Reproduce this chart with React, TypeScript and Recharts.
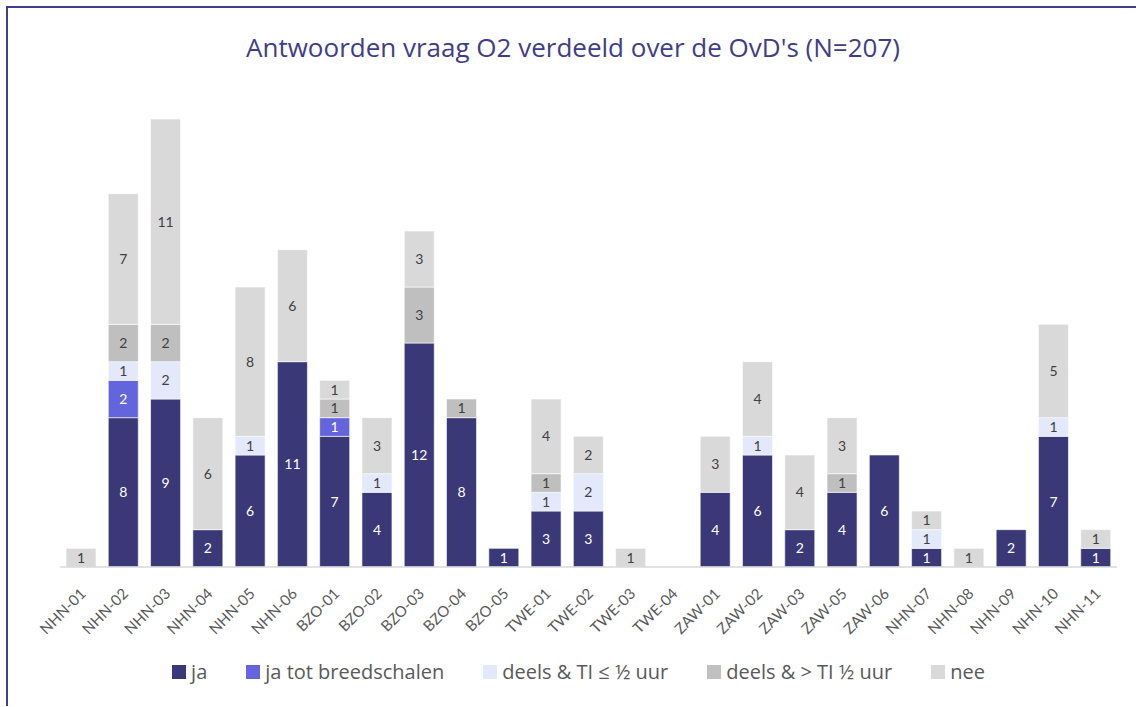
import React from "react";
import { BarChart, Bar, XAxis, YAxis, Legend, LabelList } from "recharts";

const categories = [
  "NHN-01", "NHN-02", "NHN-03", "NHN-04", "NHN-05", "NHN-06",
  "BZO-01", "BZO-02", "BZO-03", "BZO-04", "BZO-05",
  "TWE-01", "TWE-02", "TWE-03", "TWE-04",
  "ZAW-01", "ZAW-02", "ZAW-03", "ZAW-05", "ZAW-06",
  "NHN-07", "NHN-08", "NHN-09", "NHN-10", "NHN-11",
];

const ja = [0, 8, 9, 2, 6, 11, 7, 4, 12, 8, 1, 3, 3, 0, 0, 4, 6, 2, 4, 6, 1, 0, 2, 7, 1];
const jaTotBreedschalen = [0, 2, 0, 0, 0, 0, 1, 0, 0, 0, 0, 0, 0, 0, 0, 0, 0, 0, 0, 0, 0, 0, 0, 0, 0];
const deelsKort = [0, 1, 2, 0, 1, 0, 0, 1, 0, 0, 0, 1, 2, 0, 0, 0, 1, 0, 0, 0, 1, 0, 0, 1, 0];
const deelsLang = [0, 2, 2, 0, 0, 0, 1, 0, 3, 1, 0, 1, 0, 0, 0, 0, 0, 0, 1, 0, 0, 0, 0, 0, 0];
const nee = [1, 7, 11, 6, 8, 6, 1, 3, 3, 0, 0, 4, 2, 1, 0, 3, 4, 4, 3, 0, 1, 1, 0, 5, 1];

const series = [
  { key: "ja", name: "ja", color: "#3a3877", text: "#ffffff" },
  { key: "jaTot", name: "ja tot breedschalen", color: "#6464dc", text: "#ffffff" },
  { key: "deelsKort", name: "deels & TI \u2264 \u00bd uur", color: "#e3e8fb", text: "#404040" },
  { key: "deelsLang", name: "deels & > TI \u00bd uur", color: "#bfbfbf", text: "#404040" },
  { key: "nee", name: "nee", color: "#d9d9d9", text: "#404040" },
];

const data = categories.map((name, i) => ({
  name,
  ja: ja[i],
  jaTot: jaTotBreedschalen[i],
  deelsKort: deelsKort[i],
  deelsLang: deelsLang[i],
  nee: nee[i],
}));

const FONT = "Lato, 'Open Sans', sans-serif";
const WIDE = "'Open Sans', Lato, sans-serif";

const AngledTick = (props: any) => {
  const { x, y, payload } = props;
  return (
    <g transform={`translate(${x + 2},${y + 16})`}>
      <text
        x={0}
        y={0}
        dy="0.35em"
        textAnchor="end"
        transform="rotate(-45)"
        fill="#595959"
        fontSize={15}
        fontFamily={FONT}
      >
        {payload.value}
      </text>
    </g>
  );
};

const LegendContent = () => (
  <div
    style={{
      display: "flex",
      justifyContent: "center",
      alignItems: "center",
      gap: 39,
      fontFamily: WIDE,
      fontSize: 20,
      color: "#595959",
      paddingTop: 11,
      paddingRight: 20,
    }}
  >
    {series.map((s) => (
      <div key={s.key} style={{ display: "flex", alignItems: "center" }}>
        <span style={{ width: 14, height: 14, background: s.color, display: "inline-block", marginRight: 5 }} />
        <span>{s.name}</span>
      </div>
    ))}
  </div>
);

export default function App() {
  return (
    <div
      style={{
        position: "absolute",
        left: 6,
        top: 6,
        width: 1128,
        height: 698,
        borderLeft: "2px solid #3f3e8a",
        borderTop: "2px solid #3f3e8a",
        background: "#fff",
        overflow: "hidden",
      }}
    >
      <div
        style={{
          position: "absolute",
          top: 21,
          left: 0,
          width: 1130,
          textAlign: "center",
          fontFamily: WIDE,
          fontSize: 26,
          color: "#3f3d8a",
        }}
      >
        Antwoorden vraag O2 verdeeld over de OvD's (N=207)
      </div>
      <BarChart
        width={1130}
        height={699}
        data={data}
        margin={{ top: 111, right: 21, left: 52, bottom: 10 }}
        barSize={30}
      >
        <XAxis
          dataKey="name"
          interval={0}
          height={80}
          tickLine={false}
          axisLine={{ stroke: "#d9d9d9", strokeWidth: 1.5 }}
          tick={<AngledTick />}
        />
        <YAxis hide domain={[0, 24]} />
        <Legend verticalAlign="bottom" height={50} content={<LegendContent />} />
        {series.map((s) => (
          <Bar
            key={s.key}
            dataKey={s.key}
            name={s.name}
            stackId="a"
            fill={s.color}
            stroke="#ffffff"
            strokeWidth={0.6}
            isAnimationActive={false}
          >
            <LabelList
              dataKey={s.key}
              position="center"
              fill={s.text}
              fontSize={14}
              fontFamily={FONT}
              formatter={(v: any) => (v ? v : "")}
            />
          </Bar>
        ))}
      </BarChart>
    </div>
  );
}
